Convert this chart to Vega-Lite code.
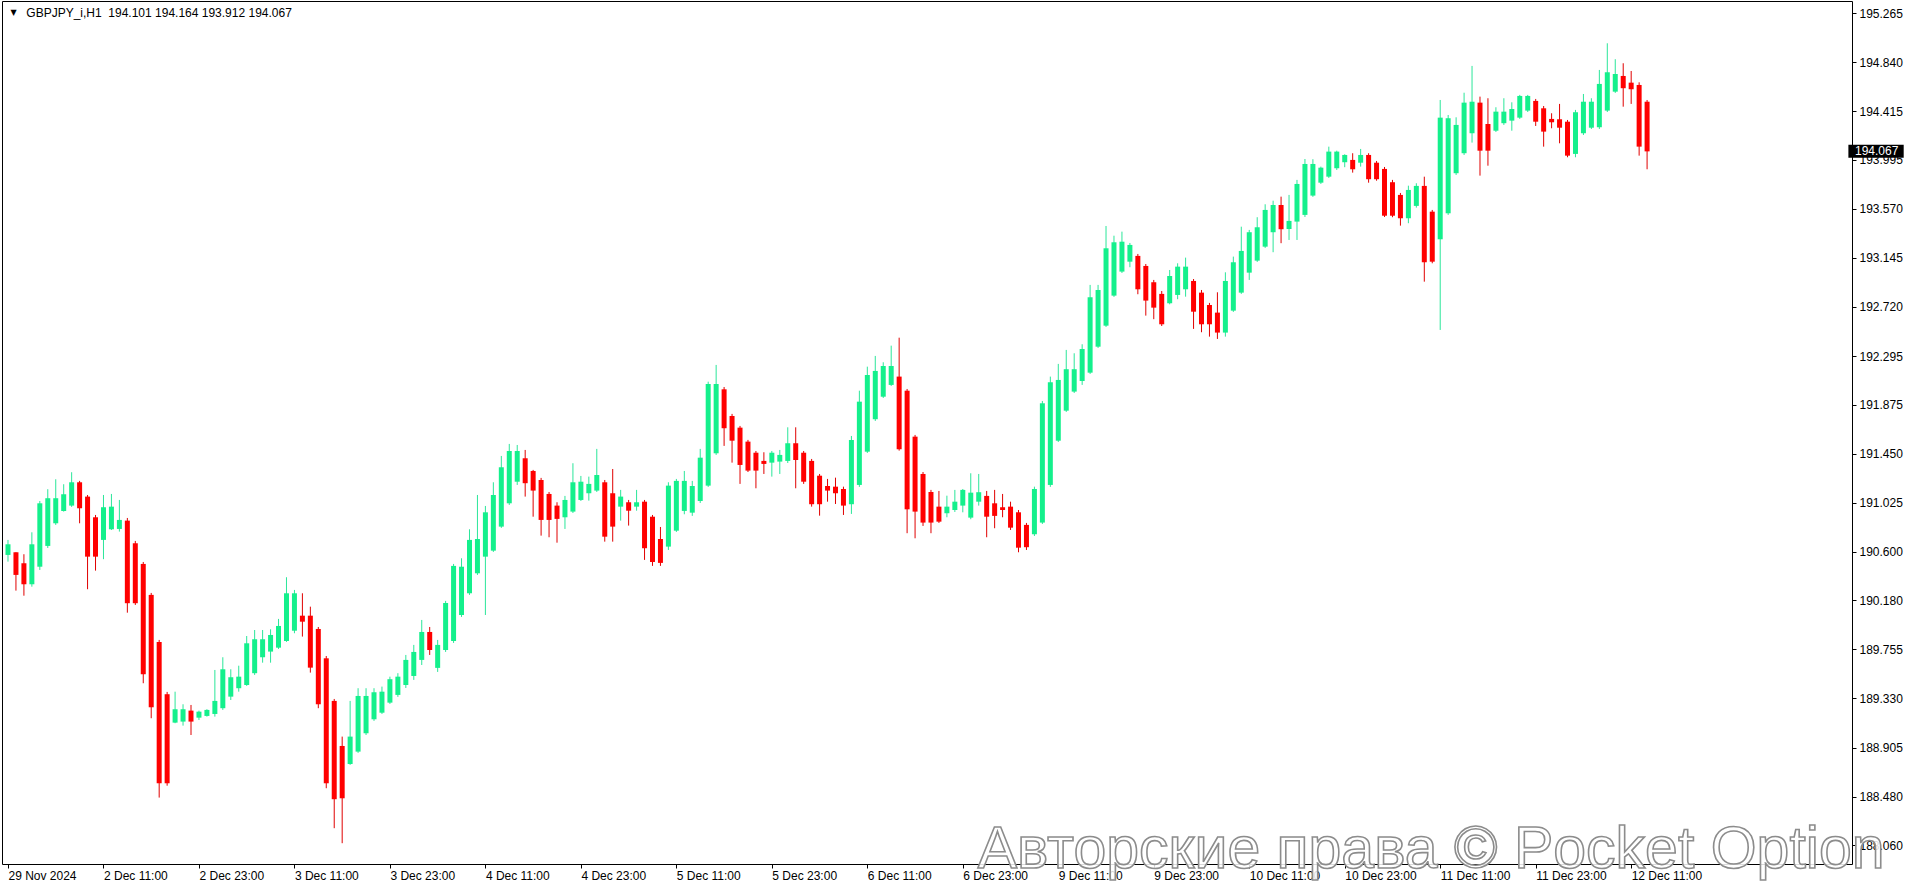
{
"$schema": "https://vega.github.io/schema/vega-lite/v6.json",
"width": 1850, "height": 863,
"autosize": "none",
"padding": {"left": 2, "top": 1, "right": 64, "bottom": 24},
"background": "white",
"config": {"view": {"stroke": "black", "strokeWidth": 1}, "font": "Liberation Sans"},
"datasets": {
"candles": [
{"i":0,"o":190.573,"h":190.703,"l":190.515,"c":190.665},
{"i":1,"o":190.596,"h":190.596,"l":190.264,"c":190.400},
{"i":2,"o":190.501,"h":190.579,"l":190.220,"c":190.319},
{"i":3,"o":190.319,"h":190.769,"l":190.298,"c":190.665},
{"i":4,"o":190.471,"h":191.040,"l":190.443,"c":191.020},
{"i":5,"o":190.651,"h":191.142,"l":190.633,"c":191.064},
{"i":6,"o":190.847,"h":191.228,"l":190.833,"c":191.064},
{"i":7,"o":190.954,"h":191.185,"l":190.948,"c":191.098},
{"i":8,"o":191.000,"h":191.289,"l":190.989,"c":191.202},
{"i":9,"o":191.202,"h":191.214,"l":190.847,"c":190.977},
{"i":10,"o":191.078,"h":191.092,"l":190.276,"c":190.558},
{"i":11,"o":190.899,"h":190.919,"l":190.437,"c":190.558},
{"i":12,"o":190.703,"h":191.092,"l":190.536,"c":190.986},
{"i":13,"o":190.795,"h":191.101,"l":190.789,"c":190.991},
{"i":14,"o":190.798,"h":191.049,"l":190.775,"c":190.876},
{"i":15,"o":190.870,"h":190.893,"l":190.073,"c":190.155},
{"i":16,"o":190.674,"h":190.694,"l":190.140,"c":190.155},
{"i":17,"o":190.495,"h":190.512,"l":189.462,"c":189.540},
{"i":18,"o":190.227,"h":190.244,"l":189.159,"c":189.254},
{"i":19,"o":189.820,"h":189.837,"l":188.472,"c":188.596},
{"i":20,"o":189.367,"h":189.387,"l":188.575,"c":188.596},
{"i":21,"o":189.121,"h":189.389,"l":189.116,"c":189.237},
{"i":22,"o":189.130,"h":189.280,"l":189.095,"c":189.237},
{"i":23,"o":189.225,"h":189.274,"l":189.014,"c":189.130},
{"i":24,"o":189.164,"h":189.225,"l":189.144,"c":189.216},
{"i":25,"o":189.179,"h":189.237,"l":189.173,"c":189.231},
{"i":26,"o":189.196,"h":189.577,"l":189.173,"c":189.309},
{"i":27,"o":189.246,"h":189.687,"l":189.231,"c":189.583},
{"i":28,"o":189.346,"h":189.583,"l":189.317,"c":189.514},
{"i":29,"o":189.419,"h":189.614,"l":189.389,"c":189.519},
{"i":30,"o":189.447,"h":189.871,"l":189.439,"c":189.808},
{"i":31,"o":189.549,"h":189.923,"l":189.534,"c":189.843},
{"i":32,"o":189.687,"h":189.923,"l":189.640,"c":189.843},
{"i":33,"o":189.736,"h":189.929,"l":189.640,"c":189.880},
{"i":34,"o":189.770,"h":190.019,"l":189.759,"c":189.958},
{"i":35,"o":189.828,"h":190.380,"l":189.820,"c":190.241},
{"i":36,"o":189.917,"h":190.270,"l":189.895,"c":190.241},
{"i":37,"o":190.047,"h":190.241,"l":189.866,"c":189.995},
{"i":38,"o":190.047,"h":190.125,"l":189.554,"c":189.597},
{"i":39,"o":189.932,"h":189.949,"l":189.246,"c":189.280},
{"i":40,"o":189.678,"h":189.698,"l":188.553,"c":188.596},
{"i":41,"o":189.309,"h":189.326,"l":188.207,"c":188.458},
{"i":42,"o":188.919,"h":189.000,"l":188.077,"c":188.466},
{"i":43,"o":188.763,"h":189.309,"l":188.755,"c":189.000},
{"i":44,"o":188.870,"h":189.419,"l":188.859,"c":189.352},
{"i":45,"o":189.029,"h":189.419,"l":189.014,"c":189.352},
{"i":46,"o":189.150,"h":189.419,"l":189.136,"c":189.384},
{"i":47,"o":189.207,"h":189.433,"l":189.196,"c":189.389},
{"i":48,"o":189.294,"h":189.519,"l":189.283,"c":189.497},
{"i":49,"o":189.361,"h":189.549,"l":189.344,"c":189.519},
{"i":50,"o":189.447,"h":189.707,"l":189.421,"c":189.664},
{"i":51,"o":189.525,"h":189.794,"l":189.491,"c":189.733},
{"i":52,"o":189.664,"h":190.010,"l":189.620,"c":189.906},
{"i":53,"o":189.906,"h":189.949,"l":189.707,"c":189.750},
{"i":54,"o":189.595,"h":189.837,"l":189.560,"c":189.794},
{"i":55,"o":189.750,"h":190.175,"l":189.733,"c":190.157},
{"i":56,"o":189.828,"h":190.495,"l":189.811,"c":190.478},
{"i":57,"o":190.053,"h":190.544,"l":190.036,"c":190.471},
{"i":58,"o":190.241,"h":190.795,"l":190.227,"c":190.703},
{"i":59,"o":190.414,"h":191.092,"l":190.400,"c":190.711},
{"i":60,"o":190.558,"h":190.997,"l":190.053,"c":190.942},
{"i":61,"o":190.610,"h":191.202,"l":190.599,"c":191.092},
{"i":62,"o":190.818,"h":191.430,"l":190.807,"c":191.332},
{"i":63,"o":191.020,"h":191.534,"l":191.006,"c":191.473},
{"i":64,"o":191.207,"h":191.525,"l":191.179,"c":191.473},
{"i":65,"o":191.410,"h":191.482,"l":191.078,"c":191.194},
{"i":66,"o":191.300,"h":191.309,"l":190.904,"c":191.130},
{"i":67,"o":191.222,"h":191.240,"l":190.740,"c":190.876},
{"i":68,"o":191.101,"h":191.118,"l":190.726,"c":190.876},
{"i":69,"o":191.000,"h":191.029,"l":190.679,"c":190.885},
{"i":70,"o":190.899,"h":191.084,"l":190.798,"c":191.049},
{"i":71,"o":190.948,"h":191.367,"l":190.936,"c":191.202},
{"i":72,"o":191.049,"h":191.257,"l":191.040,"c":191.207},
{"i":73,"o":191.107,"h":191.251,"l":191.043,"c":191.188},
{"i":74,"o":191.130,"h":191.491,"l":191.118,"c":191.265},
{"i":75,"o":191.202,"h":191.222,"l":190.688,"c":190.731},
{"i":76,"o":191.107,"h":191.317,"l":190.688,"c":190.818},
{"i":77,"o":190.991,"h":191.136,"l":190.870,"c":191.078},
{"i":78,"o":191.029,"h":191.049,"l":190.827,"c":190.956},
{"i":79,"o":190.991,"h":191.136,"l":190.956,"c":191.029},
{"i":80,"o":191.034,"h":191.049,"l":190.530,"c":190.631},
{"i":81,"o":190.904,"h":190.919,"l":190.478,"c":190.512},
{"i":82,"o":190.711,"h":190.815,"l":190.478,"c":190.504},
{"i":83,"o":190.645,"h":191.202,"l":190.616,"c":191.173},
{"i":84,"o":190.783,"h":191.231,"l":190.772,"c":191.214},
{"i":85,"o":190.954,"h":191.300,"l":190.925,"c":191.214},
{"i":86,"o":190.939,"h":191.214,"l":190.911,"c":191.170},
{"i":87,"o":191.040,"h":191.491,"l":191.023,"c":191.415},
{"i":88,"o":191.173,"h":192.073,"l":191.162,"c":192.053},
{"i":89,"o":191.453,"h":192.218,"l":191.439,"c":192.053},
{"i":90,"o":192.007,"h":192.027,"l":191.517,"c":191.670},
{"i":91,"o":191.776,"h":191.794,"l":191.372,"c":191.562},
{"i":92,"o":191.675,"h":191.690,"l":191.188,"c":191.352},
{"i":93,"o":191.554,"h":191.569,"l":191.291,"c":191.303},
{"i":94,"o":191.458,"h":191.473,"l":191.150,"c":191.303},
{"i":95,"o":191.387,"h":191.462,"l":191.274,"c":191.361},
{"i":96,"o":191.372,"h":191.473,"l":191.251,"c":191.458},
{"i":97,"o":191.381,"h":191.482,"l":191.274,"c":191.439},
{"i":98,"o":191.387,"h":191.678,"l":191.369,"c":191.540},
{"i":99,"o":191.540,"h":191.678,"l":191.150,"c":191.395},
{"i":100,"o":191.458,"h":191.473,"l":191.188,"c":191.207},
{"i":101,"o":191.387,"h":191.404,"l":190.991,"c":191.012},
{"i":102,"o":191.259,"h":191.274,"l":190.913,"c":191.012},
{"i":103,"o":191.170,"h":191.231,"l":191.034,"c":191.130},
{"i":104,"o":191.164,"h":191.242,"l":191.014,"c":191.107},
{"i":105,"o":191.144,"h":191.164,"l":190.919,"c":191.000},
{"i":106,"o":191.012,"h":191.603,"l":190.928,"c":191.568},
{"i":107,"o":191.179,"h":191.995,"l":191.162,"c":191.900},
{"i":108,"o":191.467,"h":192.203,"l":191.456,"c":192.131},
{"i":109,"o":191.748,"h":192.296,"l":191.733,"c":192.166},
{"i":110,"o":191.943,"h":192.241,"l":191.932,"c":192.209},
{"i":111,"o":192.045,"h":192.385,"l":192.036,"c":192.209},
{"i":112,"o":192.117,"h":192.454,"l":191.476,"c":191.488},
{"i":113,"o":191.995,"h":192.010,"l":190.761,"c":190.968},
{"i":114,"o":191.597,"h":191.612,"l":190.717,"c":190.948},
{"i":115,"o":191.274,"h":191.291,"l":190.824,"c":190.853},
{"i":116,"o":191.118,"h":191.136,"l":190.761,"c":190.853},
{"i":117,"o":190.991,"h":191.127,"l":190.850,"c":190.861},
{"i":118,"o":190.934,"h":191.086,"l":190.899,"c":190.991},
{"i":119,"o":190.962,"h":191.136,"l":190.945,"c":191.034},
{"i":120,"o":191.000,"h":191.144,"l":190.942,"c":191.136},
{"i":121,"o":190.896,"h":191.280,"l":190.882,"c":191.112},
{"i":122,"o":191.034,"h":191.274,"l":191.000,"c":191.116},
{"i":123,"o":191.084,"h":191.127,"l":190.726,"c":190.904},
{"i":124,"o":191.020,"h":191.136,"l":190.804,"c":190.911},
{"i":125,"o":190.986,"h":191.101,"l":190.899,"c":190.962},
{"i":126,"o":190.991,"h":191.034,"l":190.789,"c":190.809},
{"i":127,"o":190.942,"h":190.962,"l":190.596,"c":190.636},
{"i":128,"o":190.833,"h":190.850,"l":190.616,"c":190.640},
{"i":129,"o":190.752,"h":191.164,"l":190.737,"c":191.144},
{"i":130,"o":190.853,"h":191.906,"l":190.841,"c":191.886},
{"i":131,"o":191.179,"h":192.117,"l":191.162,"c":192.068},
{"i":132,"o":191.562,"h":192.227,"l":191.551,"c":192.088},
{"i":133,"o":191.822,"h":192.348,"l":191.811,"c":192.181},
{"i":134,"o":191.987,"h":192.319,"l":191.975,"c":192.181},
{"i":135,"o":192.079,"h":192.397,"l":192.045,"c":192.356},
{"i":136,"o":192.151,"h":192.911,"l":192.140,"c":192.804},
{"i":137,"o":192.376,"h":192.911,"l":192.365,"c":192.867},
{"i":138,"o":192.558,"h":193.421,"l":192.547,"c":193.228},
{"i":139,"o":192.818,"h":193.337,"l":192.807,"c":193.280},
{"i":140,"o":193.026,"h":193.372,"l":193.014,"c":193.285},
{"i":141,"o":193.112,"h":193.274,"l":193.064,"c":193.257},
{"i":142,"o":193.162,"h":193.179,"l":192.830,"c":192.873},
{"i":143,"o":193.075,"h":193.092,"l":192.645,"c":192.775},
{"i":144,"o":192.934,"h":192.954,"l":192.614,"c":192.714},
{"i":145,"o":192.833,"h":192.858,"l":192.555,"c":192.570},
{"i":146,"o":192.752,"h":193.040,"l":192.743,"c":192.988},
{"i":147,"o":192.824,"h":193.098,"l":192.787,"c":193.069},
{"i":148,"o":192.873,"h":193.147,"l":192.809,"c":193.069},
{"i":149,"o":192.945,"h":192.962,"l":192.530,"c":192.679},
{"i":150,"o":192.844,"h":192.867,"l":192.501,"c":192.570},
{"i":151,"o":192.737,"h":192.755,"l":192.463,"c":192.570},
{"i":152,"o":192.671,"h":192.847,"l":192.443,"c":192.498},
{"i":153,"o":192.498,"h":193.020,"l":192.463,"c":192.945},
{"i":154,"o":192.688,"h":193.156,"l":192.677,"c":193.107},
{"i":155,"o":192.844,"h":193.415,"l":192.833,"c":193.205},
{"i":156,"o":193.017,"h":193.387,"l":192.954,"c":193.367},
{"i":157,"o":193.121,"h":193.497,"l":193.110,"c":193.410},
{"i":158,"o":193.242,"h":193.609,"l":193.231,"c":193.560},
{"i":159,"o":193.367,"h":193.640,"l":193.194,"c":193.603},
{"i":160,"o":193.603,"h":193.675,"l":193.272,"c":193.393},
{"i":161,"o":193.395,"h":193.690,"l":193.300,"c":193.465},
{"i":162,"o":193.459,"h":193.820,"l":193.300,"c":193.785},
{"i":163,"o":193.517,"h":194.001,"l":193.499,"c":193.958},
{"i":164,"o":193.684,"h":193.999,"l":193.673,"c":193.958},
{"i":165,"o":193.796,"h":193.935,"l":193.785,"c":193.926},
{"i":166,"o":193.848,"h":194.108,"l":193.837,"c":194.065},
{"i":167,"o":193.921,"h":194.073,"l":193.906,"c":194.065},
{"i":168,"o":193.973,"h":194.042,"l":193.930,"c":194.036},
{"i":169,"o":193.993,"h":194.051,"l":193.883,"c":193.912},
{"i":170,"o":193.969,"h":194.088,"l":193.935,"c":194.036},
{"i":171,"o":194.036,"h":194.051,"l":193.796,"c":193.826},
{"i":172,"o":193.969,"h":193.984,"l":193.813,"c":193.826},
{"i":173,"o":193.915,"h":193.932,"l":193.499,"c":193.510},
{"i":174,"o":193.800,"h":193.820,"l":193.497,"c":193.510},
{"i":175,"o":193.690,"h":193.707,"l":193.424,"c":193.488},
{"i":176,"o":193.488,"h":193.770,"l":193.445,"c":193.733},
{"i":177,"o":193.595,"h":193.791,"l":193.580,"c":193.768},
{"i":178,"o":193.768,"h":193.848,"l":192.939,"c":193.107},
{"i":179,"o":193.545,"h":193.560,"l":193.098,"c":193.112},
{"i":180,"o":193.306,"h":194.512,"l":192.521,"c":194.359},
{"i":181,"o":193.531,"h":194.382,"l":193.517,"c":194.354},
{"i":182,"o":193.878,"h":194.362,"l":193.863,"c":194.296},
{"i":183,"o":194.051,"h":194.575,"l":194.036,"c":194.489},
{"i":184,"o":194.224,"h":194.807,"l":194.143,"c":194.497},
{"i":185,"o":194.489,"h":194.541,"l":193.857,"c":194.073},
{"i":186,"o":194.304,"h":194.527,"l":193.943,"c":194.073},
{"i":187,"o":194.246,"h":194.449,"l":194.235,"c":194.411},
{"i":188,"o":194.311,"h":194.527,"l":194.296,"c":194.411},
{"i":189,"o":194.333,"h":194.492,"l":194.246,"c":194.434},
{"i":190,"o":194.359,"h":194.556,"l":194.348,"c":194.547},
{"i":191,"o":194.420,"h":194.556,"l":194.408,"c":194.547},
{"i":192,"o":194.504,"h":194.521,"l":194.287,"c":194.324},
{"i":193,"o":194.440,"h":194.460,"l":194.108,"c":194.238},
{"i":194,"o":194.348,"h":194.397,"l":194.267,"c":194.319},
{"i":195,"o":194.345,"h":194.478,"l":194.137,"c":194.272},
{"i":196,"o":194.324,"h":194.339,"l":194.016,"c":194.030},
{"i":197,"o":194.045,"h":194.426,"l":194.016,"c":194.406},
{"i":198,"o":194.224,"h":194.564,"l":194.209,"c":194.497},
{"i":199,"o":194.272,"h":194.527,"l":194.261,"c":194.497},
{"i":200,"o":194.276,"h":194.772,"l":194.261,"c":194.651},
{"i":201,"o":194.420,"h":195.003,"l":194.408,"c":194.752},
{"i":202,"o":194.584,"h":194.865,"l":194.573,"c":194.737},
{"i":203,"o":194.720,"h":194.830,"l":194.454,"c":194.614},
{"i":204,"o":194.662,"h":194.763,"l":194.478,"c":194.605},
{"i":205,"o":194.642,"h":194.665,"l":194.030,"c":194.108},
{"i":206,"o":194.497,"h":194.512,"l":193.912,"c":194.067}
],
"labels": [{"header": "GBPJPY_i,H1\u00a0\u00a0194.101 194.164 193.912 194.067", "last": "194.067", "mark": "Авторские права © Pocket Option"}]
},
"layer": [
{
"data": {"name": "candles"},
"mark": {"type": "rule", "strokeWidth": 1},
"encoding": {
"x": {"field": "i", "type": "quantitative",
"scale": {"domain": [-0.125, 231.125], "nice": false, "zero": false},
"axis": {"orient": "bottom", "values": [0,12,24,36,48,60,72,84,96,108,120,132,144,156,168,180,192,204],
"labelExpr": "['29 Nov 2024','2 Dec 11:00','2 Dec 23:00','3 Dec 11:00','3 Dec 23:00','4 Dec 11:00','4 Dec 23:00','5 Dec 11:00','5 Dec 23:00','6 Dec 11:00','6 Dec 23:00','9 Dec 11:00','9 Dec 23:00','10 Dec 11:00','10 Dec 23:00','11 Dec 11:00','11 Dec 23:00','12 Dec 11:00'][round(datum.value/12)]",
"domain": false, "grid": false, "ticks": true, "tickSize": 4, "tickColor": "black",
"labelAlign": "left", "labelBaseline": "top", "labelPadding": 2, "labelFontSize": 12, "labelColor": "black",
"labelFont": "Liberation Sans", "labelOverlap": false, "labelFlush": false, "labelBound": false, "title": null}},
"y": {"field": "l", "type": "quantitative",
"scale": {"domain": [187.897, 195.369], "nice": false, "zero": false},
"axis": {"orient": "right", "values": [195.265,194.84,194.415,193.995,193.57,193.145,192.72,192.295,191.875,191.45,191.025,190.6,190.18,189.755,189.33,188.905,188.48,188.06],
"format": ".3f", "domain": false, "grid": false, "ticks": true, "tickSize": 4, "tickColor": "black",
"labelPadding": 3, "labelFontSize": 12, "labelColor": "black", "labelFont": "Liberation Sans",
"labelOverlap": false, "labelBound": false, "labelFlush": false, "title": null}},
"y2": {"field": "h"},
"color": {"condition": {"test": "datum.c >= datum.o", "value": "#2BE69A"}, "value": "#E00000"}
}
},
{
"data": {"name": "candles"},
"mark": {"type": "bar", "size": 5},
"encoding": {
"x": {"field": "i", "type": "quantitative"},
"y": {"field": "o", "type": "quantitative"},
"y2": {"field": "c"},
"color": {"condition": {"test": "datum.c >= datum.o", "value": "#14F08C"}, "value": "#FF0000"}
}
},
{
"mark": {"type": "rule", "color": "#C0C0C0", "strokeWidth": 1},
"encoding": {"y": {"datum": 194.067, "type": "quantitative"}}
},
{
"data": {"name": "labels"},
"mark": {"type": "rect", "color": "black"},
"encoding": {
"x": {"datum": 231.3, "type": "quantitative"}, "x2": {"datum": 238.25},
"y": {"datum": 194.124, "type": "quantitative"}, "y2": {"datum": 194.012}
}
},
{
"data": {"name": "labels"},
"mark": {"type": "text", "color": "white", "align": "left", "baseline": "middle", "fontSize": 12, "font": "Liberation Sans", "dx": 8},
"encoding": {
"x": {"datum": 231.125, "type": "quantitative"},
"y": {"datum": 194.067, "type": "quantitative"},
"text": {"field": "last"}
}
},
{
"data": {"name": "labels"},
"mark": {"type": "text", "color": "black", "align": "left", "baseline": "middle", "fontSize": 12, "font": "Liberation Sans"},
"encoding": {
"x": {"datum": 2.3, "type": "quantitative"},
"y": {"datum": 195.263, "type": "quantitative"},
"text": {"field": "header"}
}
},
{
"data": {"name": "labels"},
"mark": {"type": "text", "color": "black", "align": "center", "baseline": "middle", "fontSize": 8, "font": "DejaVu Sans"},
"encoding": {
"x": {"datum": 0.7, "type": "quantitative"},
"y": {"datum": 195.263, "type": "quantitative"},
"text": {"value": "▼"}
}
},
{
"data": {"name": "labels"},
"mark": {"type": "text", "fill": "white", "fillOpacity": 0.85, "stroke": "#8C8C8C", "strokeWidth": 1.6, "align": "left", "baseline": "alphabetic", "fontSize": 59, "font": "Liberation Sans"},
"encoding": {
"x": {"datum": 121.875, "type": "quantitative"},
"y": {"datum": 187.863, "type": "quantitative"},
"text": {"field": "mark"}
}
}
]
}
